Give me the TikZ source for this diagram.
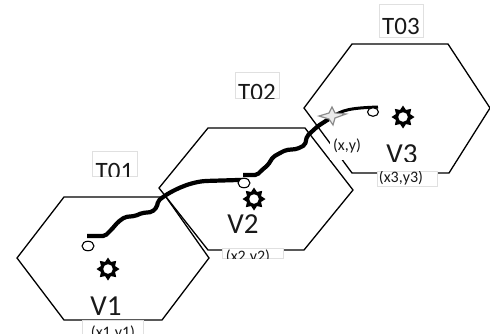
\documentclass[tikz,border=0pt]{standalone}
\usepackage{fontspec}
\setmainfont{Carlito}
\usetikzlibrary{shapes.geometric}
\tikzset{
  x=1pt,y=-1pt,
  hexa/.style={draw=black,line width=1.3pt,line join=miter},
  lab/.style={inner sep=0pt,anchor=base,text=black!90},
  big/.style={lab,font=\fontsize{29}{29}\selectfont},
  ttl/.style={lab,font=\fontsize{25}{25}\selectfont},
  small/.style={lab,font=\fontsize{16}{16}\selectfont},
  boxed/.style={draw=black!12,line width=0.6pt,fill=white},
  track/.style={line width=4.2pt,line cap=butt,line join=round,rounded corners=2pt},
  endpt/.style={ellipse,draw=black,fill=white,line width=1.1pt,inner sep=0pt,minimum width=12pt,minimum height=9.5pt},
  sunshape/.style={star,star points=8,star point ratio=1.5,fill=black,inner sep=0pt,minimum size=23pt},
  suncore/.style={circle,fill=white,inner sep=0pt,minimum size=9.5pt},
}
\newcommand{\cliplab}[8]{% x0 y0 x1 y1 name style pos text
  \draw[boxed] (#1,#2) rectangle (#3,#4);
  \begin{scope}\clip (#1,#2) rectangle (#3,#4);
    \node[#6] (#5) at #7 {#8};
  \end{scope}}
\newcommand{\sunat}[2]{\node[sunshape] (#1) at #2 {}; \node[suncore] at #2 {};}
\begin{document}
\begin{tikzpicture}
\useasboundingbox (0,0) rectangle (490,333);
\fill[white] (0,0) rectangle (490,333);
% hexagons
\draw[hexa] (166,197) -- (64,197) -- (17,258) -- (64,320) -- (162,320) -- (209,258) -- (166,197);
\draw[hexa] (208,128) -- (305,128) -- (353,190) -- (304,250) -- (208,250) -- (159,188) -- cycle;
\draw[hexa] (352,44) -- (448,44) -- (490,108) -- (449,173) -- (352,173) -- (304,108) -- cycle;
% big labels
\node[big] (v1) at (106,315) {V1};
\node[big] (v2) at (243,233) {V2};
\begin{scope}\clip (380,130) rectangle (430,161.5);
\node[big] (v3) at (402,163) {V3};
\end{scope}
% boxed labels
\cliplab{92}{151}{137}{176}{t1}{ttl}{(114.5,179)}{T01}
\cliplab{235}{72}{279}{98}{t2}{ttl}{(257,100)}{T02}
\cliplab{379}{4}{423}{37}{t3}{ttl}{(401,34)}{T03}
\cliplab{82}{320}{143}{334}{c1}{small}{(113,337)}{(x1,y1)}
\cliplab{222}{248}{283}{258}{c2}{small}{(248,261)}{(x2,y2)}
\cliplab{377}{171}{437}{186}{c3}{small}{(401,182)}{(x3,y3)}
\fill[white] (330,130) rectangle (363,160);
\node[small] (xy) at (347,150) {(x,y)};
% tracks
\draw[track] (87,236) -- (105,236) -- (112,229) -- (118,222) -- (125,217) -- (135,216) -- (142,213) -- (152,212) -- (157,207) -- (158,201) -- (163,197)
  .. controls (172,191) and (187,183) .. (205,181) -- (238,180) -- (243,180);
\draw[track] (243,175) -- (257,175) -- (262,170) -- (268,165) -- (273,157) -- (280,153) -- (286,150) -- (297,149) -- (305,145) -- (307,136)
  -- (318,126) -- (332,117);
\draw[line width=3pt,line cap=butt] (332,117) .. controls (342,110) and (350,108) .. (378,107);
% end points
\node[endpt] (e1) at (88,246) {};
\node[endpt] (e2) at (244,183) {};
\node[endpt,minimum width=11pt,minimum height=8.5pt] (e3) at (373,112) {};
% suns
\sunat{s1}{(108,269)}
\sunat{s2}{(254,199)}
\sunat{s3}{(403,117)}
% star
\draw[draw=black!45,fill=black!8,line width=1.2pt,line join=miter]
  (319,116) -- (329,113) -- (332,107) -- (335,113) -- (346,114) -- (335,118) -- (333,125) -- (329,119) -- cycle;
\end{tikzpicture}
\end{document}
